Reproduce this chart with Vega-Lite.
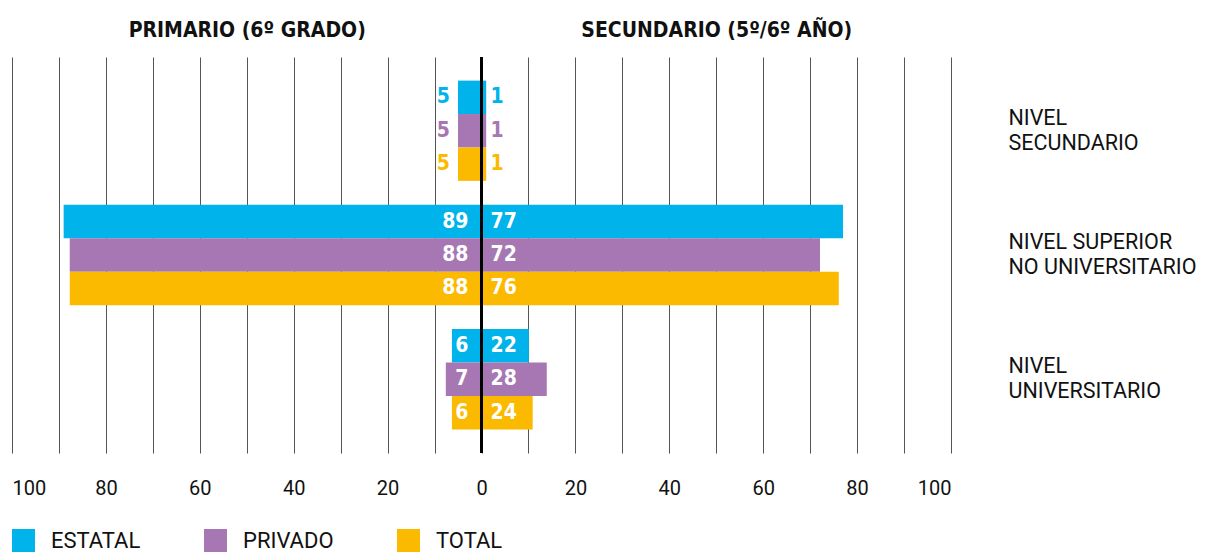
{
  "$schema": "https://vega.github.io/schema/vega-lite/v6.json",
  "width": 939,
  "height": 396,
  "autosize": {"type": "none"},
  "padding": {"left": 12, "top": 57, "right": 254, "bottom": 102},
  "background": "white",
  "config": {"view": {"stroke": null}},
  "data": {
    "values": [
      {"nivel": "NIVEL SECUNDARIO", "tipo": "ESTATAL", "lado": "PRIMARIO", "valor": 5, "barra": -5},
      {"nivel": "NIVEL SECUNDARIO", "tipo": "PRIVADO", "lado": "PRIMARIO", "valor": 5, "barra": -5},
      {"nivel": "NIVEL SECUNDARIO", "tipo": "TOTAL", "lado": "PRIMARIO", "valor": 5, "barra": -5},
      {"nivel": "NIVEL SECUNDARIO", "tipo": "ESTATAL", "lado": "SECUNDARIO", "valor": 1, "barra": 1},
      {"nivel": "NIVEL SECUNDARIO", "tipo": "PRIVADO", "lado": "SECUNDARIO", "valor": 1, "barra": 1},
      {"nivel": "NIVEL SECUNDARIO", "tipo": "TOTAL", "lado": "SECUNDARIO", "valor": 1, "barra": 1},
      {"nivel": "NIVEL SUPERIOR NO UNIVERSITARIO", "tipo": "ESTATAL", "lado": "PRIMARIO", "valor": 89, "barra": -89},
      {"nivel": "NIVEL SUPERIOR NO UNIVERSITARIO", "tipo": "PRIVADO", "lado": "PRIMARIO", "valor": 88, "barra": -87.7},
      {"nivel": "NIVEL SUPERIOR NO UNIVERSITARIO", "tipo": "TOTAL", "lado": "PRIMARIO", "valor": 88, "barra": -87.7},
      {"nivel": "NIVEL SUPERIOR NO UNIVERSITARIO", "tipo": "ESTATAL", "lado": "SECUNDARIO", "valor": 77, "barra": 77},
      {"nivel": "NIVEL SUPERIOR NO UNIVERSITARIO", "tipo": "PRIVADO", "lado": "SECUNDARIO", "valor": 72, "barra": 72.1},
      {"nivel": "NIVEL SUPERIOR NO UNIVERSITARIO", "tipo": "TOTAL", "lado": "SECUNDARIO", "valor": 76, "barra": 76.1},
      {"nivel": "NIVEL UNIVERSITARIO", "tipo": "ESTATAL", "lado": "PRIMARIO", "valor": 6, "barra": -6.3},
      {"nivel": "NIVEL UNIVERSITARIO", "tipo": "PRIVADO", "lado": "PRIMARIO", "valor": 7, "barra": -7.6},
      {"nivel": "NIVEL UNIVERSITARIO", "tipo": "TOTAL", "lado": "PRIMARIO", "valor": 6, "barra": -6.3},
      {"nivel": "NIVEL UNIVERSITARIO", "tipo": "ESTATAL", "lado": "SECUNDARIO", "valor": 22, "barra": 10.1},
      {"nivel": "NIVEL UNIVERSITARIO", "tipo": "PRIVADO", "lado": "SECUNDARIO", "valor": 28, "barra": 13.9},
      {"nivel": "NIVEL UNIVERSITARIO", "tipo": "TOTAL", "lado": "SECUNDARIO", "valor": 24, "barra": 10.9}
    ]
  },
  "resolve": {"axis": {"x": "independent"}},
  "layer": [
    {
      "mark": {"type": "bar", "orient": "horizontal"},
      "encoding": {
        "x": {
          "field": "barra", "type": "quantitative",
          "scale": {"domain": [-100, 100], "nice": false, "zero": true},
          "axis": {
            "orient": "bottom",
            "values": [-100, -90, -80, -70, -60, -50, -40, -30, -20, -10, 0, 10, 20, 30, 40, 50, 60, 70, 80, 90, 100],
            "grid": true, "gridColor": "#555555", "gridWidth": 1,
            "ticks": false, "domain": false,
            "labelExpr": "datum.value % 20 == 0 ? format(abs(datum.value), 'd') : ''",
            "labelFlush": true, "labelOverlap": false,
            "labelPadding": 25,
            "labelFont": "Roboto", "labelFontSize": 20, "labelColor": "#111111",
            "title": null
          }
        },
        "y": {
          "field": "nivel", "type": "nominal",
          "sort": ["NIVEL SECUNDARIO", "NIVEL SUPERIOR NO UNIVERSITARIO", "NIVEL UNIVERSITARIO"],
          "scale": {"paddingInner": 0.193, "paddingOuter": 0.19},
          "axis": {
            "orient": "right", "ticks": false, "domain": false, "grid": false,
            "labelPadding": 57, "labelAlign": "left",
            "labelFont": "Roboto", "labelFontSize": 21.5, "labelLineHeight": 25,
            "labelOffset": -12,
            "labelColor": "#111111", "labelLimit": 400,
            "labelExpr": "datum.value == 'NIVEL SUPERIOR NO UNIVERSITARIO' ? ['NIVEL SUPERIOR', 'NO UNIVERSITARIO'] : split(datum.value, ' ')",
            "title": null
          }
        },
        "yOffset": {
          "field": "tipo", "type": "nominal",
          "sort": ["ESTATAL", "PRIVADO", "TOTAL"],
          "scale": {"paddingInner": 0, "paddingOuter": 0}
        },
        "color": {
          "field": "tipo", "type": "nominal",
          "sort": ["ESTATAL", "PRIVADO", "TOTAL"],
          "scale": {"domain": ["ESTATAL", "PRIVADO", "TOTAL"], "range": ["#00B3EB", "#A677B2", "#FBB900"]},
          "legend": {
            "orient": "none", "legendX": 0, "legendY": 472,
            "direction": "horizontal", "title": null,
            "symbolType": "square", "symbolSize": 529, "symbolStrokeWidth": 0, "symbolOpacity": 1,
            "labelFont": "Roboto", "labelFontSize": 22, "labelColor": "#111111",
            "labelOffset": 16, "columnPadding": 63, "padding": 0
          }
        }
      }
    },
    {
      "data": {"values": [{"cero": 0}]},
      "mark": {"type": "rule", "color": "#000000", "strokeWidth": 3},
      "encoding": {
        "x": {
          "field": "cero", "type": "quantitative",
          "scale": {"domain": [-100, 100], "nice": false},
          "axis": {
            "orient": "top", "values": [-50, 50],
            "grid": false, "ticks": false, "domain": false,
            "labelExpr": "datum.value < 0 ? 'PRIMARIO (6º GRADO)' : 'SECUNDARIO (5º/6º AÑO)'",
            "labelFont": "Liberation Sans Narrow, DejaVu Sans Condensed, DejaVu Sans",
            "labelFontWeight": "bold", "labelFontSize": 21, "labelColor": "#111111",
            "labelPadding": 17, "labelLimit": 500, "labelOverlap": false,
            "title": null
          }
        }
      }
    },
    {
      "transform": [{"filter": "datum.lado == 'PRIMARIO' && datum.valor > 5"}],
      "mark": {"type": "text", "align": "right", "baseline": "middle", "dx": -13, "color": "white",
               "font": "Liberation Sans Narrow, DejaVu Sans Condensed, DejaVu Sans", "fontWeight": "bold", "fontSize": 21},
      "encoding": {
        "x": {"datum": 0, "type": "quantitative", "axis": null},
        "y": {"field": "nivel", "type": "nominal", "sort": ["NIVEL SECUNDARIO", "NIVEL SUPERIOR NO UNIVERSITARIO", "NIVEL UNIVERSITARIO"]},
        "yOffset": {"field": "tipo", "type": "nominal", "sort": ["ESTATAL", "PRIVADO", "TOTAL"]},
        "text": {"field": "valor", "type": "quantitative"}
      }
    },
    {
      "transform": [{"filter": "datum.lado == 'PRIMARIO' && datum.valor <= 5"}],
      "mark": {"type": "text", "align": "right", "baseline": "middle", "dx": -8,
               "font": "Liberation Sans Narrow, DejaVu Sans Condensed, DejaVu Sans", "fontWeight": "bold", "fontSize": 21},
      "encoding": {
        "x": {"field": "barra", "type": "quantitative", "axis": null},
        "y": {"field": "nivel", "type": "nominal", "sort": ["NIVEL SECUNDARIO", "NIVEL SUPERIOR NO UNIVERSITARIO", "NIVEL UNIVERSITARIO"]},
        "yOffset": {"field": "tipo", "type": "nominal", "sort": ["ESTATAL", "PRIVADO", "TOTAL"]},
        "color": {"field": "tipo", "type": "nominal", "legend": null},
        "text": {"field": "valor", "type": "quantitative"}
      }
    },
    {
      "transform": [{"filter": "datum.lado == 'SECUNDARIO'"}],
      "mark": {"type": "text", "align": "left", "baseline": "middle", "dx": 9,
               "font": "Liberation Sans Narrow, DejaVu Sans Condensed, DejaVu Sans", "fontWeight": "bold", "fontSize": 21},
      "encoding": {
        "x": {"datum": 0, "type": "quantitative", "axis": null},
        "y": {"field": "nivel", "type": "nominal", "sort": ["NIVEL SECUNDARIO", "NIVEL SUPERIOR NO UNIVERSITARIO", "NIVEL UNIVERSITARIO"]},
        "yOffset": {"field": "tipo", "type": "nominal", "sort": ["ESTATAL", "PRIVADO", "TOTAL"]},
        "color": {
          "condition": {"test": "datum.valor > 5", "value": "white"},
          "field": "tipo", "type": "nominal", "legend": null
        },
        "text": {"field": "valor", "type": "quantitative"}
      }
    }
  ]
}
